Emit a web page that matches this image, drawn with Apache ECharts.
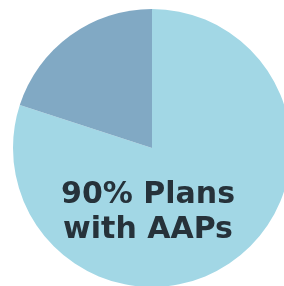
<!DOCTYPE html>
<html><head><meta charset="utf-8">
<script src="https://cdn.jsdelivr.net/npm/echarts@6/dist/echarts.min.js"></script>
<style>html,body{margin:0;padding:0;background:#fff}#c{width:284px;height:286px}</style>
</head><body><div id="c"></div>
<script>
var categories = ['Plans with AAPs', 'Plans without AAPs'];
var values = [80, 20];
var colors = ['#a2d7e5', '#81a9c4'];
var labelLines = ['90% Plans', 'with AAPs'];

var chart = echarts.init(document.getElementById('c'), null, {renderer: 'canvas'});
chart.setOption({
  animation: false,
  title: {
    text: labelLines.join('\n'),
    left: 148,
    top: 178,
    textAlign: 'center',
    padding: 0,
    textStyle: {
      fontFamily: 'DejaVu Sans',
      fontWeight: 'bold',
      fontSize: 30,
      lineHeight: 35,
      color: '#26323a'
    },
    z: 10
  },
  series: [{
    type: 'pie',
    center: [152, 148],
    radius: 139,
    startAngle: 90,
    clockwise: true,
    label: {show: false},
    labelLine: {show: false},
    itemStyle: {borderWidth: 0},
    emphasis: {disabled: true},
    data: categories.map(function (c, i) {
      return {name: c, value: values[i], itemStyle: {color: colors[i]}};
    })
  }]
});
</script></body></html>
